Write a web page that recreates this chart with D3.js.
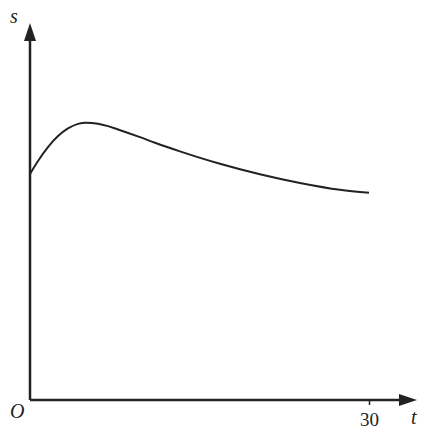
<!DOCTYPE html>
<html>
<head>
<meta charset="utf-8">
<script src="https://cdn.jsdelivr.net/npm/d3@7"></script>
<style>
html,body{margin:0;padding:0;background:#fff;}
svg{display:block;}
.lbl{font-family:"Liberation Serif","DejaVu Serif",serif;font-style:italic;font-size:20px;fill:#222;}
.tick text{font-family:"Liberation Serif","DejaVu Serif",serif;font-size:19px;fill:#222;}
</style>
</head>
<body>
<svg id="c" width="430" height="439"></svg>
<script>
const tValues = [0, 0.71, 1.59, 2.48, 3.36, 4.25, 4.96, 6.02, 6.90, 7.79, 9.73, 11.06, 13.27, 16.81, 20.35, 23.89, 27.43, 30];
const sValues = [64.6, 68.3, 72.25, 75.4, 77.6, 78.9, 79.25, 78.95, 78.25, 77.3, 75.1, 73.5, 71.05, 67.5, 64.5, 62.0, 60.05, 59.2];
const xTickValues = [30];
const xTickLabels = ["30"];

const svg = d3.select("#c");
const x = d3.scaleLinear().domain([0, 30]).range([30, 369]);
const y = d3.scaleLinear().domain([0, 100]).range([400, 50]);
const ink = "#222";

// x tick via d3 axis
const xAxis = d3.axisBottom(x).tickValues(xTickValues).tickFormat((d,i)=>xTickLabels[i]).tickSize(5).tickPadding(3);
const gx = svg.append("g").attr("transform", `translate(0,${y(0)})`).call(xAxis);
gx.select(".domain").remove();
gx.selectAll(".tick line").attr("stroke", ink).attr("stroke-width", 1.5);
gx.selectAll(".tick text").attr("fill", ink).attr("dy", "0.95em");

// axis lines
const x0 = x(0), y0 = y(0);
svg.append("line").attr("x1", x0).attr("y1", y0).attr("x2", 402).attr("y2", y0)
  .attr("stroke", ink).attr("stroke-width", 2.5);
svg.append("line").attr("x1", x0).attr("y1", y0).attr("x2", x0).attr("y2", 38)
  .attr("stroke", ink).attr("stroke-width", 2.5);
// arrowheads
svg.append("path").attr("d", `M${x0},23 L${x0-6},41 L${x0+6},41 Z`).attr("fill", ink);
svg.append("path").attr("d", `M417,${y0} L399,${y0-6} L399,${y0+6} Z`).attr("fill", ink);

// curve
const line = d3.line().x((d,i)=>x(tValues[i])).y(d=>y(d)).curve(d3.curveMonotoneX);
svg.append("path").datum(sValues).attr("d", line).attr("fill", "none")
  .attr("stroke", ink).attr("stroke-width", 2);

// labels
svg.append("text").attr("class","lbl").attr("x", 10).attr("y", 23).text("s");
svg.append("text").attr("class","lbl").attr("x", 411).attr("y", 424).text("t");
svg.append("text").attr("class","lbl").attr("x", 10).attr("y", 418).text("O");
</script>
</body>
</html>
